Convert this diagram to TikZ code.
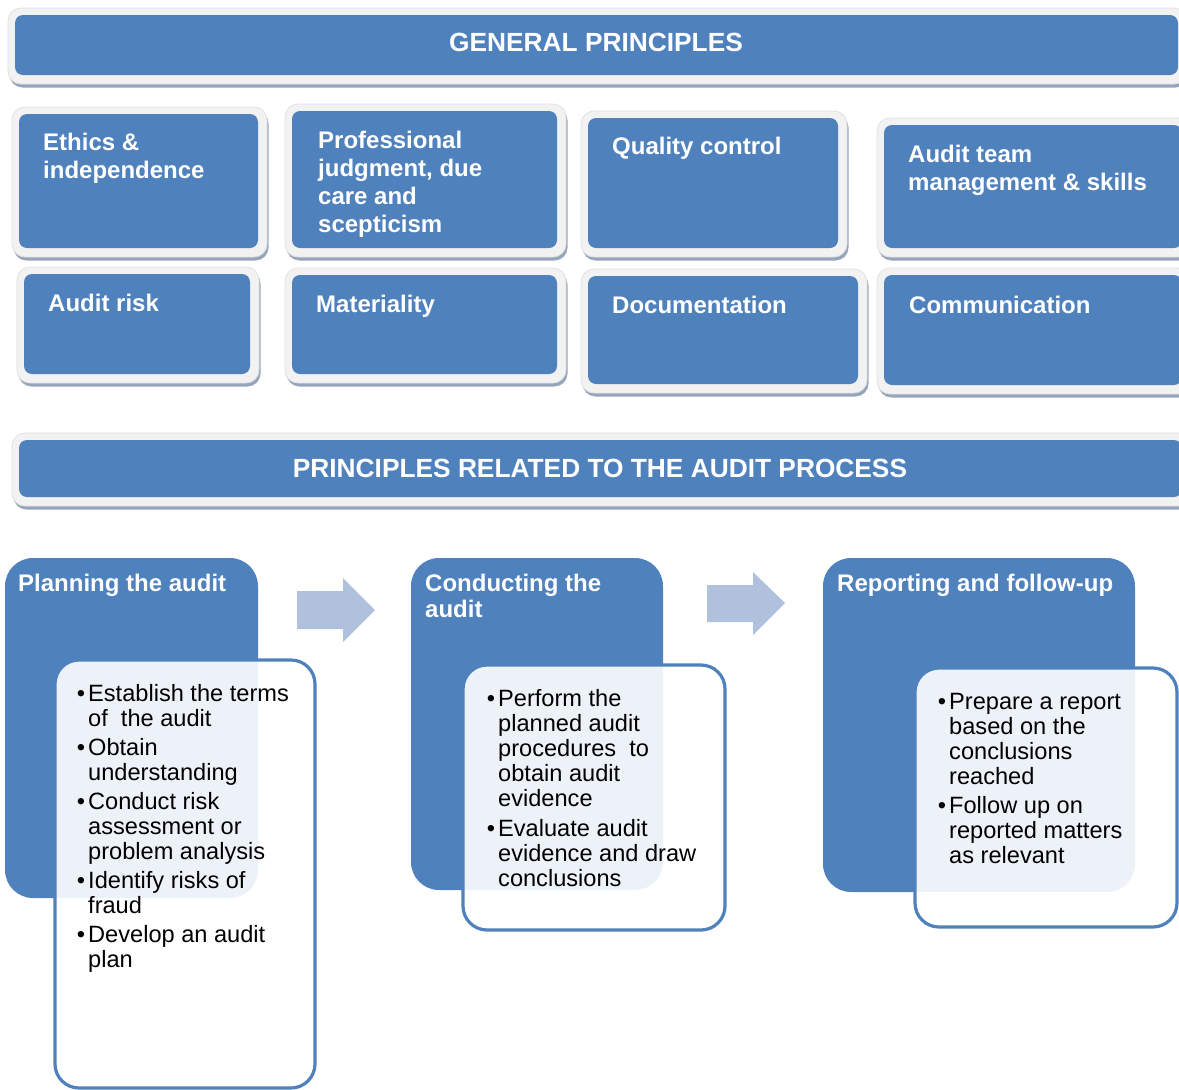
\documentclass[tikz,border=0pt]{standalone}
\usepackage{fontspec}
\setmainfont{Liberation Sans}
\definecolor{blu}{RGB}{79,129,189}
\definecolor{frm}{RGB}{242,242,242}
\definecolor{frmedge}{RGB}{226,226,226}
\definecolor{shd}{RGB}{150,165,186}
\definecolor{arw}{RGB}{176,193,222}
\tikzset{
  hdr/.style={font=\fontsize{24}{28}\selectfont\bfseries, text=white, anchor=north west, align=left, inner sep=0pt},
  ptitle/.style={font=\fontsize{24}{26}\selectfont\bfseries, text=white, anchor=north west, align=left, inner sep=0pt},
  ban/.style={font=\fontsize{26.3}{30}\selectfont\bfseries, text=white, inner sep=0pt},
  bod/.style={font=\fontsize{23.6}{25}\selectfont, text=black, anchor=north west, align=left, inner sep=0pt},
  procbox/.style={fill=blu, rounded corners=28pt},
  detbox/.style={fill=white, fill opacity=0.9, draw=blu, line width=3.2pt, rounded corners=24pt},
  blockarrow/.style={fill=arw},
}
\newcommand{\mytile}[4]{%
  \fill[shd, rounded corners=13pt] (#1-7+1.5,#2-7+3.5) rectangle (#3+9+1.5,#4+9+3.5);
  \filldraw[fill=frm, draw=frmedge, line width=0.8pt, rounded corners=13pt] (#1-7,#2-7) rectangle (#3+9,#4+9);
  \fill[blu, rounded corners=8pt] (#1,#2) rectangle (#3,#4);
}
\newcommand{\bul}{\makebox[0pt][r]{•\hspace{3pt}}}
\begin{document}
\begin{tikzpicture}[x=1pt,y=-1pt]
\useasboundingbox (0,0) rectangle (1179,1090);
\clip (0,0) rectangle (1179,1090);
\fill[white] (0,0) rectangle (1179,1090);

% banners
\mytile{15}{15}{1178}{75}
\node[ban] (gp) at (596,42) {GENERAL PRINCIPLES};
\mytile{19}{440}{1182}{497}
\node[ban] (pap) at (600,468) {PRINCIPLES RELATED TO THE AUDIT PROCESS};

% row 1
\mytile{19}{114}{258}{248}
\node[hdr] (ethics) at (43,133) {Ethics \&\\independence};
\mytile{292}{111}{557}{248}
\node[hdr] (prof) at (318,131) {Professional\\judgment, due\\care and\\scepticism};
\mytile{588}{118}{838}{248}
\node[hdr] (qc) at (612,137) {Quality control};
\mytile{884}{125}{1182}{248}
\node[hdr] (team) at (908,145) {Audit team\\management \& skills};

% row 2
\mytile{24}{274}{250}{374}
\node[hdr] (risk) at (48,294) {Audit risk};
\mytile{292}{275}{557}{374}
\node[hdr] (mat) at (316,295) {Materiality};
\mytile{588}{276}{858}{384}
\node[hdr] (doc) at (612,296) {Documentation};
\mytile{884}{275}{1182}{385}
\node[hdr] (comm) at (909,296) {Communication};

% process boxes
\fill[procbox] (5,558) rectangle (258,898);
\node[ptitle] (plan) at (18,574) {Planning the audit};
\filldraw[detbox] (55,660) rectangle (315,1088);
\node[bod] (plantext) at (88,684) {\bul Establish the terms\\of\ \ the audit\\[4pt]\bul Obtain\\understanding\\[4pt]\bul Conduct risk\\assessment or\\problem analysis\\[4pt]\bul Identify risks of\\fraud\\[4pt]\bul Develop an audit\\plan};

\fill[procbox] (411,558) rectangle (663,890);
\node[ptitle] (cond) at (425,574) {Conducting the\\audit};
\filldraw[detbox] (463,665) rectangle (725,930);
\node[bod] (condtext) at (498,689) {\bul Perform the\\planned audit\\procedures\ \ to\\obtain audit\\evidence\\[5pt]\bul Evaluate audit\\evidence and draw\\conclusions};

\fill[procbox] (823,558) rectangle (1135,892);
\node[ptitle] (rep) at (837,574) {Reporting and follow-up};
\filldraw[detbox] (915,668) rectangle (1177,927);
\node[bod] (reptext) at (949,693) {\bul Prepare a report\\based on the\\conclusions\\reached\\[4pt]\bul Follow up on\\reported matters\\as relevant};

% block arrows
\fill[blockarrow] (297,591) -- (343,591) -- (343,578) -- (375,610) -- (343,642) -- (343,629) -- (297,629) -- cycle;
\fill[blockarrow] (707,585) -- (753,585) -- (753,572) -- (785,603) -- (753,635) -- (753,622) -- (707,622) -- cycle;
\end{tikzpicture}
\end{document}
